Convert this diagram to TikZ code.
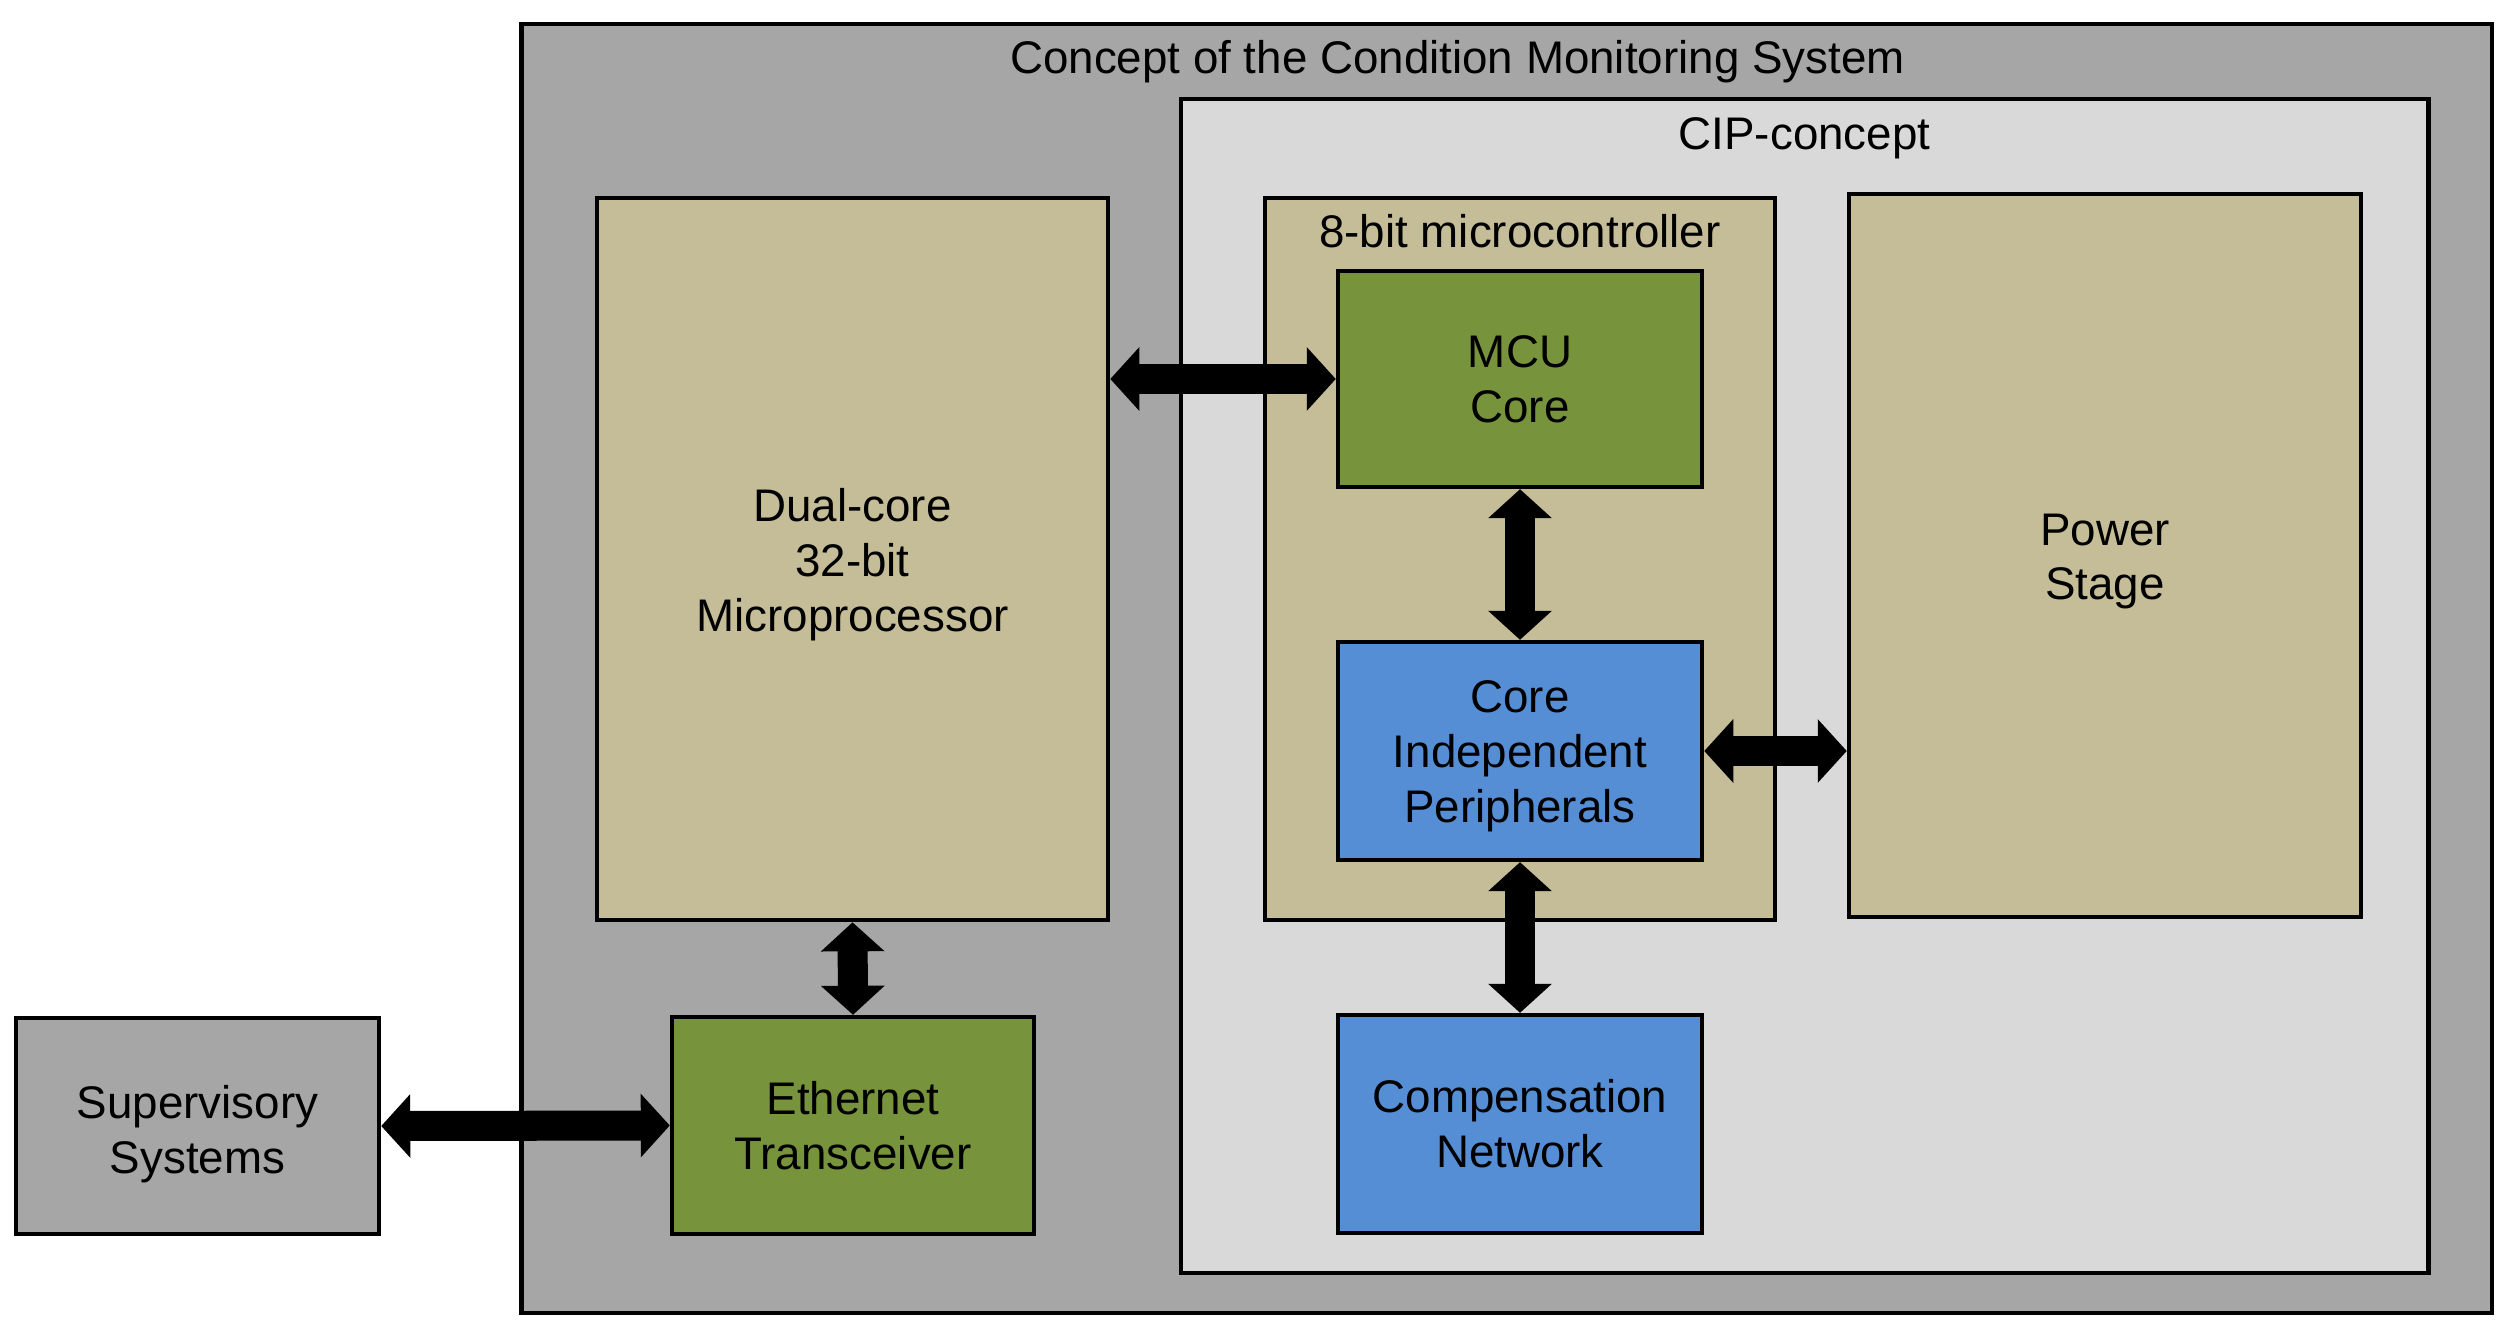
\documentclass[tikz,border=0pt]{standalone}
\usepackage{fontspec}
\setmainfont{Liberation Sans}
\usetikzlibrary{arrows.meta, positioning}
\definecolor{FrameGray}{HTML}{A6A6A6}
\definecolor{ConceptGray}{HTML}{D9D9D9}
\definecolor{BlockTan}{HTML}{C4BD97}
\definecolor{LeafGreen}{HTML}{77933C}
\definecolor{PeriphBlue}{HTML}{558ED5}

\tikzset{
  box/.style={draw=black, line width=1.2pt, inner sep=0pt, align=center,
              font=\fontsize{13}{15.6}\selectfont},
  boxtitle/.style={inner sep=0pt, align=center, font=\fontsize{13}{15.6}\selectfont},
  link/.style={line width=0.3cm,
               {Triangle[length=0.29cm,width=0.62cm]}-{Triangle[length=0.29cm,width=0.62cm]}},
}

\begin{document}
\begin{tikzpicture}[x=0.01cm, y=-0.01cm]
  \useasboundingbox (0,0) rectangle (2510,1331);

  % containers
  \node[box, fill=FrameGray, minimum width=19.69cm, minimum height=12.89cm] (CMS) at (1506.5,668.5) {};
  \node[boxtitle] at ([xshift=-0.49cm, yshift=-0.4cm]CMS.north) {Concept of the Condition Monitoring System};

  \node[box, fill=ConceptGray, minimum width=12.47cm, minimum height=11.74cm] (CIP) at (1804.5,686) {};
  \node[boxtitle] at ([yshift=-0.42cm]CIP.north) {CIP-concept};

  \node[box, fill=BlockTan, minimum width=5.10cm, minimum height=7.22cm] (MCU) at (1520,559) {};
  \node[boxtitle] at ([yshift=-0.355cm]MCU.north) {8-bit microcontroller};

  % blocks
  \node[box, fill=BlockTan, minimum width=5.11cm, minimum height=7.22cm,
        label={[boxtitle, yshift=-0.06cm]center:Dual-core\\32-bit\\Microprocessor}] (DualCore) at (852.5,559) {};
  \node[box, fill=BlockTan, minimum width=5.12cm, minimum height=7.23cm,
        label={[boxtitle, yshift=-0.06cm]center:Power\\Stage}] (Power) at (2105,555.5) {};
  \node[box, fill=LeafGreen, minimum width=3.64cm, minimum height=2.16cm] (MCUCore) at (1520,379)
    {MCU\\Core};
  \node[box, fill=PeriphBlue, minimum width=3.64cm, minimum height=2.18cm,
        label={[boxtitle, yshift=-0.05cm]center:Core\\Independent\\Peripherals}] (CIPeriph) at (1520,751) {};
  \node[box, fill=PeriphBlue, minimum width=3.64cm, minimum height=2.18cm] (Comp) at (1520,1124)
    {Compensation\\Network};
  \node[box, fill=LeafGreen, minimum width=3.62cm, minimum height=2.17cm] (Ethernet) at (853,1125.5)
    {Ethernet\\Transceiver};
  \node[box, fill=FrameGray, minimum width=3.63cm, minimum height=2.16cm,
        label={[boxtitle, yshift=-0.08cm]center:Supervisory\\Systems}] (Supervisory) at (197.5,1126) {};

  % links
  \draw[link] (DualCore.east |- MCUCore.west) -- (MCUCore.west);
  \draw[link] (MCUCore.south) -- (CIPeriph.north);
  \draw[link] (CIPeriph.east) -- (Power.west |- CIPeriph.east);
  \draw[link] (CIPeriph.south) -- (Comp.north);
  \draw[link] (DualCore.south) -- (Ethernet.north);
  \draw[link] (Supervisory.east) -- (Ethernet.west);
\end{tikzpicture}
\end{document}
